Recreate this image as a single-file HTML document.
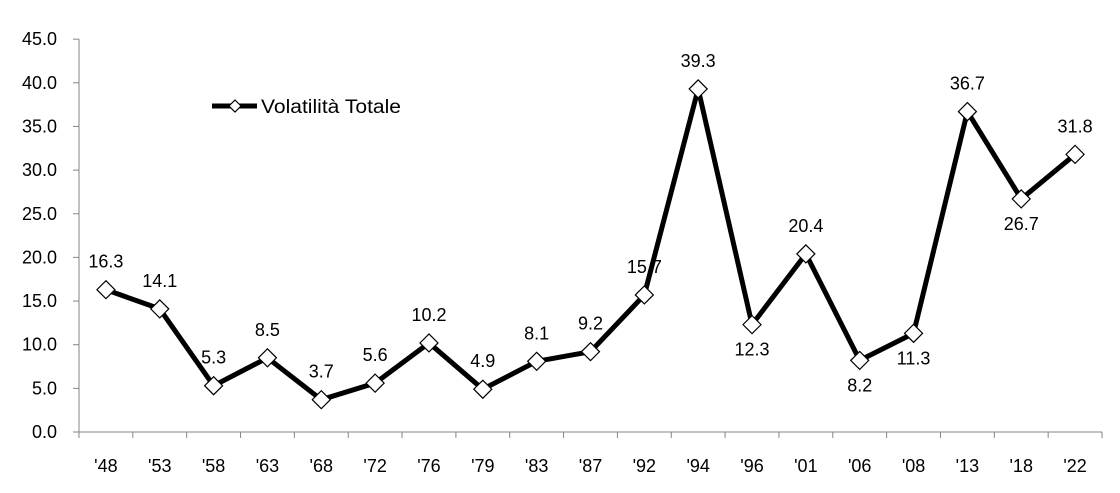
<!DOCTYPE html>
<html><head><meta charset="utf-8"><style>
html,body{margin:0;padding:0;background:#fff;}
svg text{font-family:"Liberation Sans",sans-serif;fill:#000;}
</style></head><body>
<svg id="c" width="1120" height="488" viewBox="0 0 1120 488" xmlns="http://www.w3.org/2000/svg"></svg>
<script>
const s=document.getElementById('c');
const labs=["'48","'53","'58","'63","'68","'72","'76","'79","'83","'87","'92","'94","'96","'01","'06","'08","'13","'18","'22"];
const v=[16.3,14.1,5.3,8.5,3.7,5.6,10.2,4.9,8.1,9.2,15.7,39.3,12.3,20.4,8.2,11.3,36.7,26.7,31.8];
const below=[12,14,15,17];
const x0=79,x1=1102,y0=432,k=8.73,w=(x1-x0)/19;
const X=i=>x0+w*(i+0.5), Y=val=>y0-val*k;
let h='';
h+=`<line x1="${x0}" y1="${Y(45)}" x2="${x0}" y2="${y0}" stroke="#868686" stroke-width="1"/>`;
h+=`<line x1="${x0-6}" y1="${y0}" x2="${x1}" y2="${y0}" stroke="#868686" stroke-width="1"/>`;
for(let t=0;t<=45;t+=5){const y=Y(t);
 h+=`<line x1="${x0-6}" y1="${y}" x2="${x0}" y2="${y}" stroke="#868686"/>`;
 h+=`<text x="57" y="${y+6}" font-size="18" text-anchor="end">${t.toFixed(1)}</text>`;}
for(let i=0;i<=19;i++){const x=x0+w*i;h+=`<line x1="${x}" y1="${y0}" x2="${x}" y2="${y0+6}" stroke="#868686"/>`;}
labs.forEach((l,i)=>h+=`<text x="${X(i)}" y="472" font-size="18" text-anchor="middle">${l}</text>`);
h+=`<polyline fill="none" stroke="#000" stroke-width="5" stroke-linejoin="round" points="${v.map((a,i)=>X(i)+','+Y(a)).join(' ')}"/>`;
const dia=(x,y,r)=>`<polygon points="${x},${y-r} ${x+r},${y} ${x},${y+r} ${x-r},${y}" fill="#fff" stroke="#000" stroke-width="1.2"/>`;
v.forEach((a,i)=>{h+=dia(X(i),Y(a),9);
 const ly=below.includes(i)?Y(a)+31:Y(a)-22;
 h+=`<text x="${X(i)}" y="${ly}" font-size="18" text-anchor="middle">${a.toFixed(1)}</text>`;});
h+=`<line x1="212" y1="106" x2="257" y2="106" stroke="#000" stroke-width="5"/>`;
h+=dia(235,106,6);
h+=`<text x="261" y="113" font-size="19" textLength="140" lengthAdjust="spacingAndGlyphs">Volatilità Totale</text>`;
s.innerHTML=h;
</script>
</body></html>
